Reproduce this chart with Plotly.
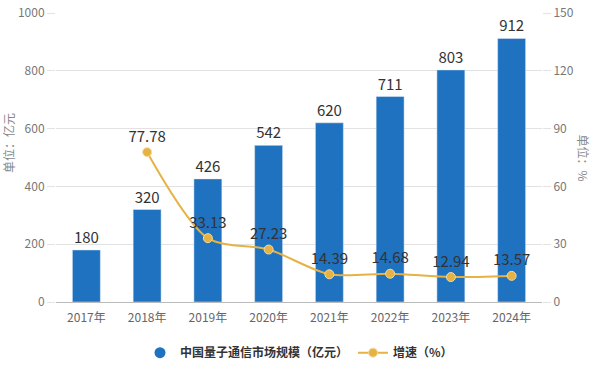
import plotly.graph_objects as go

years = ["2017年", "2018年", "2019年", "2020年", "2021年", "2022年", "2023年", "2024年"]
market = [180, 320, 426, 542, 620, 711, 803, 912]
growth_years = ["2018年", "2019年", "2020年", "2021年", "2022年", "2023年", "2024年"]
growth = [77.78, 33.13, 27.23, 14.39, 14.68, 12.94, 13.57]

bar_color = "#1F72C0"
line_color = "#E6B244"
font_family = "Noto Sans CJK SC, Noto Sans, sans-serif"

fig = go.Figure()
fig.add_trace(go.Bar(
    x=years, y=market, marker_color=bar_color, width=0.46,
    text=[str(v) for v in market], textposition="outside",
    textfont=dict(size=15, color="#333333", family=font_family),
    cliponaxis=False, showlegend=False, name="中国量子通信市场规模（亿元）",
))
# legend entry with circular symbol for the bars
fig.add_trace(go.Scatter(
    x=[None], y=[None], mode="markers",
    marker=dict(symbol="circle", size=11, color=bar_color),
    name="<b>中国量子通信市场规模（亿元）</b>",
))
fig.add_trace(go.Scatter(
    x=growth_years, y=growth, yaxis="y2", mode="lines+markers+text",
    line=dict(color=line_color, width=2, shape="spline", smoothing=0.8),
    marker=dict(size=9, color=line_color, line=dict(color="#F3DCA0", width=1)),
    text=[f"{v:.2f}" for v in growth], textposition="top center",
    textfont=dict(size=15, color="#333333", family=font_family),
    cliponaxis=False, name="<b>增速（%）</b>",
))

fig.update_layout(
    width=600, height=385,
    margin=dict(l=56, r=58, t=13, b=83, autoexpand=False),
    paper_bgcolor="white", plot_bgcolor="white",
    font=dict(family=font_family, color="#666666", size=12),
    xaxis=dict(
        type="category", showgrid=False, showline=True, linecolor="#BBBBBB",
        ticks="outside", ticklen=5, tickcolor="rgba(0,0,0,0)",
        tickfont=dict(size=12, color="#666666"),
    ),
    yaxis=dict(
        range=[0, 1000], dtick=200, showgrid=True, gridcolor="#E2E2E2",
        zeroline=False, showline=False, ticks="outside", ticklen=8,
        tickcolor="#E2E2E2", tickfont=dict(size=12, color="#777777"),
        ticklabeloverflow="allow",
    ),
    yaxis2=dict(
        range=[0, 150], dtick=30, overlaying="y", side="right",
        showgrid=False, zeroline=False, showline=False, ticks="outside",
        ticklen=8, tickcolor="#E2E2E2", tickfont=dict(size=12, color="#777777"),
        ticklabeloverflow="allow",
    ),
    legend=dict(
        orientation="h", x=0.5, xanchor="center", y=-0.125, yanchor="top",
        font=dict(size=12, color="#333333", family=font_family),
    ),
    annotations=[
        dict(text="单位：亿元", x=0, xref="paper", xshift=-48, xanchor="center",
             y=0.55, yref="paper", showarrow=False, textangle=-90,
             font=dict(size=12, color="#888888")),
        dict(text="单位：%", x=1.0, xref="paper", xshift=41, xanchor="center",
             y=0.5, yref="paper", showarrow=False, textangle=90,
             font=dict(size=12, color="#888888")),
    ],
)

fig.write_html("out.html", config={"displayModeBar": False},
               post_script="document.body.style.margin='0';")
